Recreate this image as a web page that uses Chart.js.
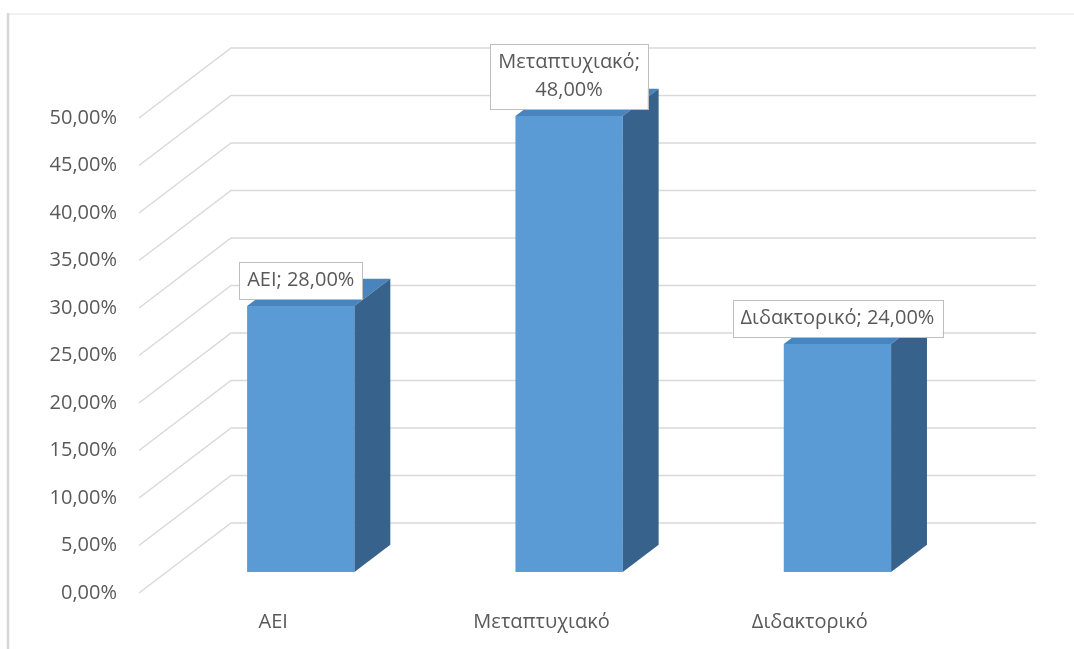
<!DOCTYPE html>
<html>
<head>
<meta charset="utf-8">
<script src="https://cdn.jsdelivr.net/npm/chart.js@4/dist/chart.umd.min.js"></script>
<style>
  html, body { margin: 0; padding: 0; background: #ffffff; }
  canvas { display: block; }
</style>
</head>
<body>
<canvas id="chart" width="1074" height="649"></canvas>
<script>
// Education levels and their shares (%)
const categories = ['ΑΕΙ', 'Μεταπτυχιακό', 'Διδακτορικό'];
const shares = [28, 48, 24];
// Value axis range and spacing (%)
const axisMin = 0;
const axisMax = 50;
const axisStep = 5;
// Which data labels break onto two lines
const labelWrap = [false, true, false];

// Oblique depth of the 3D box: offset of the back wall from the front plane
const DEPTH_X = 92;
const DEPTH_Y = 70;
// Front and back planes of the columns, as fractions of the full depth
const BAR_Z0 = 0.3;
const BAR_Z1 = 0.69;

const FONT = '"Open Sans", "Liberation Sans", sans-serif';
const TEXT = '#595959';
const GRID = '#d9d9d9';

const fmtPct = v => v.toFixed(2).replace('.', ',') + '%';

const box3d = {
  id: 'box3d',
  beforeDraw(chart) {
    // outer frame edges
    const ctx = chart.ctx;
    ctx.save();
    ctx.strokeStyle = '#ececec';
    ctx.lineWidth = 1.5;
    ctx.beginPath();
    ctx.moveTo(7, 14);
    ctx.lineTo(chart.width, 14);
    ctx.stroke();
    ctx.strokeStyle = '#d6d6d6';
    ctx.lineWidth = 2.5;
    ctx.beginPath();
    ctx.moveTo(8, 13);
    ctx.lineTo(8, chart.height);
    ctx.stroke();
    ctx.restore();
  },
  beforeDatasetsDraw(chart) {
    const { ctx, chartArea: a, scales: { y } } = chart;
    // side wall diagonals and back wall gridlines
    ctx.save();
    ctx.strokeStyle = GRID;
    ctx.lineWidth = 1.5;
    y.ticks.forEach(t => {
      const py = y.getPixelForValue(t.value);
      ctx.beginPath();
      ctx.moveTo(a.left, py);
      ctx.lineTo(a.left + DEPTH_X, py - DEPTH_Y);
      ctx.lineTo(a.right + DEPTH_X, py - DEPTH_Y);
      ctx.stroke();
    });
    ctx.restore();
    // columns stand part-way into the box
    ctx.save();
    ctx.translate(DEPTH_X * BAR_Z0, -DEPTH_Y * BAR_Z0);
  },
  afterDatasetsDraw(chart) {
    const ctx = chart.ctx;
    const dx = DEPTH_X * (BAR_Z1 - BAR_Z0);
    const dy = DEPTH_Y * (BAR_Z1 - BAR_Z0);
    chart.getDatasetMeta(0).data.forEach(bar => {
      const { x, y, base, width } = bar.getProps(['x', 'y', 'base', 'width'], true);
      const l = x - width / 2, r = x + width / 2;
      // top face
      ctx.fillStyle = '#4a84bd';
      ctx.beginPath();
      ctx.moveTo(l, y);
      ctx.lineTo(r, y);
      ctx.lineTo(r + dx, y - dy);
      ctx.lineTo(l + dx, y - dy);
      ctx.closePath();
      ctx.fill();
      // right side face
      ctx.fillStyle = '#37628b';
      ctx.beginPath();
      ctx.moveTo(r, y);
      ctx.lineTo(r + dx, y - dy);
      ctx.lineTo(r + dx, base - dy);
      ctx.lineTo(r, base);
      ctx.closePath();
      ctx.fill();
    });
    ctx.restore();
  },
  afterDraw(chart) {
    // data labels in boxed callouts above the columns
    const ctx = chart.ctx;
    const ox = DEPTH_X * BAR_Z0, oy = DEPTH_Y * BAR_Z0;
    ctx.save();
    ctx.font = '20px ' + FONT;
    ctx.textAlign = 'center';
    ctx.textBaseline = 'middle';
    const lineH = 28;
    chart.getDatasetMeta(0).data.forEach((bar, i) => {
      const { x, y } = bar.getProps(['x', 'y'], true);
      const lines = labelWrap[i]
        ? [categories[i] + ';', fmtPct(shares[i])]
        : [categories[i] + '; ' + fmtPct(shares[i])];
      const w = Math.max(...lines.map(s => ctx.measureText(s).width)) + 16;
      const h = lines.length * lineH + 9;
      const cx = x + ox;
      const bottom = y - oy - 7;
      const top = bottom - h;
      ctx.fillStyle = '#ffffff';
      ctx.fillRect(cx - w / 2, top, w, h);
      ctx.strokeStyle = '#bfbfbf';
      ctx.lineWidth = 1;
      ctx.strokeRect(Math.round(cx - w / 2) + 0.5, Math.round(top) + 0.5, Math.round(w), Math.round(h));
      ctx.fillStyle = TEXT;
      lines.forEach((s, k) => {
        ctx.fillText(s, cx, top + 4.5 + lineH * (k + 0.5));
      });
    });
    ctx.restore();
  }
};

new Chart(document.getElementById('chart'), {
  type: 'bar',
  data: {
    labels: categories,
    datasets: [{
      data: shares,
      backgroundColor: '#5b9bd5',
      borderWidth: 0,
      barPercentage: 0.4,
      categoryPercentage: 1.0,
      clip: false
    }]
  },
  options: {
    responsive: false,
    animation: false,
    layout: { padding: { left: 0, right: 130, top: 118, bottom: 0 } },
    plugins: {
      legend: { display: false },
      tooltip: { enabled: false }
    },
    scales: {
      x: {
        grid: { display: false, drawTicks: false },
        border: { display: false },
        ticks: {
          padding: 17,
          color: TEXT,
          font: { family: FONT, size: 20 }
        },
        afterFit(scale) { scale.height = 56; }
      },
      y: {
        min: axisMin,
        max: axisMax,
        grid: { display: false, drawTicks: false },
        border: { display: false },
        ticks: {
          stepSize: axisStep,
          padding: 22,
          color: TEXT,
          font: { family: FONT, size: 20 },
          callback: v => fmtPct(v)
        },
        afterFit(scale) { scale.width = 139; }
      }
    }
  },
  plugins: [box3d]
});
</script>
</body>
</html>
